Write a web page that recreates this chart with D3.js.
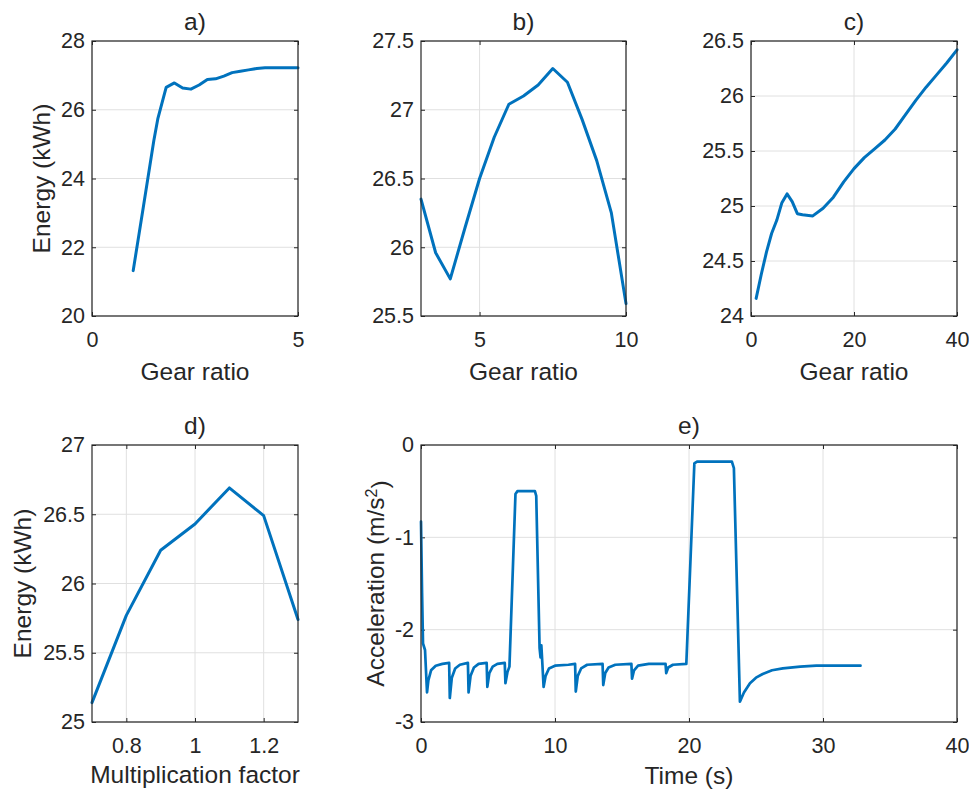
<!DOCTYPE html>
<html>
<head>
<meta charset="utf-8">
<script src="https://cdn.jsdelivr.net/npm/d3@7"></script>
<style>
  body { margin: 0; background: #fff; }
  svg { font-family: "Liberation Sans", Arial, Helvetica, sans-serif; }
</style>
</head>
<body>
<div id="chart"></div>
<script>
// a) gear ratio sweep, low range
var aGear   = [1.0, 1.25, 1.5, 1.6, 1.8, 2.0, 2.2, 2.4, 2.6, 2.8, 3.0, 3.2, 3.4, 3.6, 3.8, 4.0, 4.2, 4.5, 5.0];
var aEnergy = [21.32, 23.2, 25.1, 25.75, 26.65, 26.78, 26.63, 26.6, 26.72, 26.88, 26.9, 26.98, 27.08, 27.12, 27.16, 27.2, 27.22, 27.22, 27.22];

// b) gear ratio 3..10
var bGear   = [3, 3.5, 4, 4.5, 5, 5.5, 6, 6.5, 7, 7.5, 8, 8.5, 9, 9.5, 10];
var bEnergy = [26.35, 25.96, 25.77, 26.14, 26.5, 26.8, 27.04, 27.1, 27.18, 27.3, 27.2, 26.93, 26.63, 26.25, 25.59];

// c) gear ratio 1..40
var cGear   = [1, 2, 3, 4, 5, 6, 7, 8, 9, 10, 12, 14, 16, 18, 20, 22, 24, 26, 28, 30, 32, 34, 36, 38, 40];
var cEnergy = [24.16, 24.38, 24.58, 24.75, 24.87, 25.03, 25.11, 25.04, 24.93, 24.92, 24.91, 24.98, 25.08, 25.22, 25.34,
               25.44, 25.52, 25.6, 25.7, 25.83, 25.96, 26.08, 26.19, 26.3, 26.42];

// d) multiplication factor
var dFactor = [0.7, 0.8, 0.9, 1.0, 1.1, 1.2, 1.3];
var dEnergy = [25.14, 25.77, 26.24, 26.43, 26.69, 26.49, 25.74];

// e) acceleration over time
var eTime = [0, 0.08, 0.15, 0.3, 0.45, 0.55, 0.75, 1.1, 1.6, 2.1,
             2.15, 2.3, 2.55, 2.9, 3.5,
             3.55, 3.7, 3.95, 4.3, 4.9,
             4.95, 5.1, 5.35, 5.7, 6.25,
             6.3, 6.45, 6.6,
             7.05, 7.2, 8.5, 8.6,
             8.85, 8.92, 8.98, 9.05, 9.15, 9.3, 9.55, 10, 11, 11.5,
             11.55, 11.7, 11.95, 12.4, 13.55,
             13.6, 13.75, 14.0, 14.5, 15.7,
             15.75, 15.9, 16.2, 17, 18.25,
             18.3, 18.45, 18.8, 19.8,
             20.4, 20.6, 23.2, 23.35,
             23.8, 24.1, 24.55, 25.0, 25.5, 26.2, 27, 28.3, 29.5, 31, 32.8];
var eAccel = [-0.83, -1.6, -2.15, -2.22, -2.68, -2.55, -2.44, -2.39, -2.37, -2.36,
              -2.74, -2.52, -2.42, -2.38, -2.36,
              -2.68, -2.5, -2.41, -2.37, -2.36,
              -2.62, -2.47, -2.4, -2.37, -2.36,
              -2.58, -2.46, -2.4,
              -0.53, -0.5, -0.5, -0.55,
              -2.2, -2.3, -2.17, -2.35, -2.62, -2.5, -2.42, -2.39, -2.38, -2.37,
              -2.67, -2.5, -2.42, -2.38, -2.37,
              -2.6, -2.47, -2.41, -2.38, -2.37,
              -2.53, -2.44, -2.39, -2.37, -2.37,
              -2.47, -2.41, -2.38, -2.37,
              -0.2, -0.18, -0.18, -0.25,
              -2.78, -2.68, -2.58, -2.52, -2.48, -2.44, -2.42, -2.40, -2.39, -2.39, -2.39];

// tick labels
var aXTicks = [0, 5],            aYTicks = [20, 22, 24, 26, 28];
var bXTicks = [5, 10],           bYTicks = [25.5, 26, 26.5, 27, 27.5];
var cXTicks = [0, 20, 40],       cYTicks = [24, 24.5, 25, 25.5, 26, 26.5];
var dXTicks = [0.8, 1, 1.2],     dYTicks = [25, 25.5, 26, 26.5, 27];
var eXTicks = [0, 10, 20, 30, 40], eYTicks = [-3, -2, -1, 0];

var W = 969, H = 790;
var lineColor = "#0072BD", ink = "#262626", gridColor = "#e0e0e0";

var svg = d3.select("#chart").append("svg")
    .attr("width", W)
    .attr("height", H);
svg.append("rect").attr("width", W).attr("height", H).attr("fill", "#fff");

function panel(o) {
    var width = o.right - o.left,
        height = o.bottom - o.top;

    var x = d3.scaleLinear().domain(o.xDomain).range([0, width]);
    var y = d3.scaleLinear().domain(o.yDomain).range([height, 0]);

    var g = svg.append("g").attr("transform", "translate(" + o.left + "," + o.top + ")");

    // grid
    g.append("g").selectAll("line").data(o.yTicks).enter().append("line")
        .attr("x1", 0).attr("x2", width)
        .attr("y1", function(d) { return y(d); }).attr("y2", function(d) { return y(d); })
        .attr("stroke", gridColor).attr("stroke-width", 1);
    g.append("g").selectAll("line").data(o.xTicks).enter().append("line")
        .attr("y1", 0).attr("y2", height)
        .attr("x1", function(d) { return x(d); }).attr("x2", function(d) { return x(d); })
        .attr("stroke", gridColor).attr("stroke-width", 1);

    var fmt = function(d) { return String(d); };

    var xAxis = g.append("g").attr("transform", "translate(0," + height + ")")
        .call(d3.axisBottom(x).tickValues(o.xTicks).tickSize(-4).tickSizeOuter(0).tickPadding(16).tickFormat(fmt));
    var yAxis = g.append("g")
        .call(d3.axisLeft(y).tickValues(o.yTicks).tickSize(-4).tickSizeOuter(0).tickPadding(7).tickFormat(fmt));
    var xTop = g.append("g")
        .call(d3.axisTop(x).tickValues(o.xTicks).tickSize(-4).tickSizeOuter(0).tickFormat(""));
    var yRight = g.append("g").attr("transform", "translate(" + width + ",0)")
        .call(d3.axisRight(y).tickValues(o.yTicks).tickSize(-4).tickSizeOuter(0).tickFormat(""));

    [xAxis, yAxis, xTop, yRight].forEach(function(a) {
        a.select(".domain").remove();
        a.selectAll("line").attr("stroke", ink);
        a.selectAll("text").attr("fill", ink).style("font-size", "21.5px");
    });

    // data line
    var pts = o.xs.map(function(v, i) { return [v, o.ys[i]]; });
    g.append("path")
        .datum(pts)
        .attr("fill", "none")
        .attr("stroke", lineColor)
        .attr("stroke-width", o.lineWidth || 3)
        .attr("stroke-linejoin", "round")
        .attr("stroke-linecap", "round")
        .attr("d", d3.line().x(function(d) { return x(d[0]); }).y(function(d) { return y(d[1]); }));

    // box
    g.append("rect")
        .attr("width", width).attr("height", height)
        .attr("fill", "none").attr("stroke", ink).attr("stroke-width", 1.2);

    // title
    g.append("text")
        .attr("x", width / 2).attr("y", -11.5)
        .attr("text-anchor", "middle")
        .attr("fill", ink).style("font-size", "24.5px")
        .text(o.title);

    // x label
    g.append("text")
        .attr("x", width / 2).attr("y", o.xLabelY - o.top)
        .attr("text-anchor", "middle")
        .attr("fill", ink).style("font-size", "24.5px")
        .text(o.xLabel);

    // y label
    if (o.yLabel) {
        var t = svg.append("text")
            .attr("transform", "translate(" + o.yLabelX + "," + (o.top + height / 2) + ") rotate(-90)")
            .attr("text-anchor", "middle")
            .attr("fill", ink).style("font-size", "24.5px");
        o.yLabel.forEach(function(p) {
            var s = t.append("tspan").text(p.text);
            if (p.sup) s.attr("dy", "-0.45em").style("font-size", "16px");
            else if (p.after) s.attr("dy", "0.45em");
        });
    }
}

panel({ left: 92, right: 298, top: 41, bottom: 316, xDomain: [0, 5], yDomain: [20, 28],
        xTicks: aXTicks, yTicks: aYTicks, xs: aGear, ys: aEnergy, title: "a)",
        xLabel: "Gear ratio", xLabelY: 380, yLabel: [{text: "Energy (kWh)"}], yLabelX: 50 });

panel({ left: 421, right: 626, top: 41, bottom: 316, xDomain: [3, 10], yDomain: [25.5, 27.5],
        xTicks: bXTicks, yTicks: bYTicks, xs: bGear, ys: bEnergy, title: "b)",
        xLabel: "Gear ratio", xLabelY: 380 });

panel({ left: 751, right: 957, top: 41, bottom: 316, xDomain: [0, 40], yDomain: [24, 26.5],
        xTicks: cXTicks, yTicks: cYTicks, xs: cGear, ys: cEnergy, title: "c)",
        xLabel: "Gear ratio", xLabelY: 380 });

panel({ left: 92, right: 298, top: 445, bottom: 722, xDomain: [0.7, 1.3], yDomain: [25, 27],
        xTicks: dXTicks, yTicks: dYTicks, xs: dFactor, ys: dEnergy, title: "d)",
        xLabel: "Multiplication factor", xLabelY: 783, yLabel: [{text: "Energy (kWh)"}], yLabelX: 31 });

panel({ left: 421, right: 957, top: 445, bottom: 722, xDomain: [0, 40], yDomain: [-3, 0],
        xTicks: eXTicks, yTicks: eYTicks, xs: eTime, ys: eAccel, title: "e)", lineWidth: 2.7,
        xLabel: "Time (s)", xLabelY: 784,
        yLabel: [{text: "Acceleration (m/s"}, {text: "2", sup: true}, {text: ")", after: true}], yLabelX: 384 });
</script>
</body>
</html>
